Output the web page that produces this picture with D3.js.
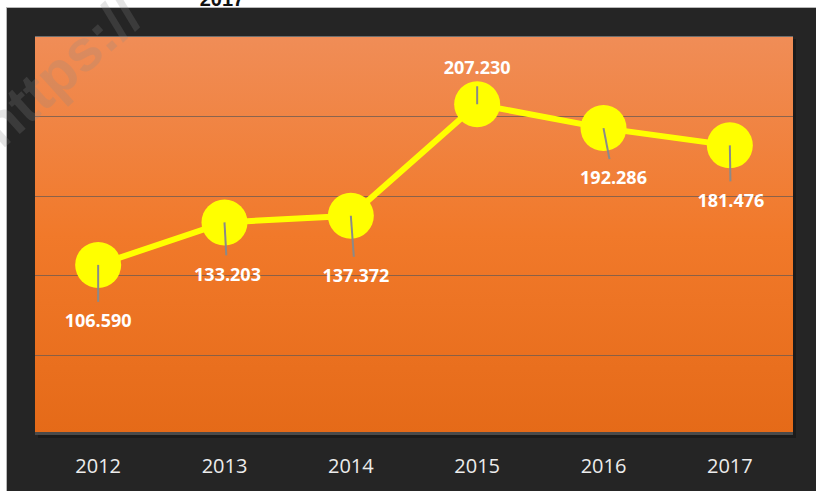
<!DOCTYPE html>
<html>
<head>
<meta charset="utf-8">
<script src="https://cdn.jsdelivr.net/npm/d3@7"></script>
<style>
  body { margin: 0; background: #fff; }
  svg { display: block; }
</style>
</head>
<body>
<div id="chart"></div>
<script>
// chart data
var years = ["2012", "2013", "2014", "2015", "2016", "2017"];
var values = [106.590, 133.203, 137.372, 207.230, 192.286, 181.476];
var valueLabels = ["106.590", "133.203", "137.372", "207.230", "192.286", "181.476"];
var yTicks = [0, 50, 100, 150, 200, 250];

// label offsets from the point (style, not data)
var labelDx = [0, 3, 5, 0, 10, 1];
var labelDy = [56, 52, 60, -37, 50, 55];

var svgWidth = 816;
var svgHeight = 491;

var margin = { top: 36, right: 23, bottom: 56, left: 35 };
var plotWidth = svgWidth - margin.left - margin.right;
var plotHeight = svgHeight - margin.top - margin.bottom;

var svg = d3.select("#chart")
    .append("svg")
    .attr("width", svgWidth)
    .attr("height", svgHeight);

var defs = svg.append("defs");
var grad = defs.append("linearGradient")
    .attr("id", "bg")
    .attr("x1", 0).attr("y1", 0).attr("x2", 0).attr("y2", 1);
grad.append("stop").attr("offset", "0%").attr("stop-color", "#f08d57");
grad.append("stop").attr("offset", "50%").attr("stop-color", "#f1792a");
grad.append("stop").attr("offset", "100%").attr("stop-color", "#e56a18");

// dark outer panel
svg.append("rect")
    .attr("x", 6.5).attr("y", 7.5)
    .attr("width", svgWidth).attr("height", svgHeight)
    .attr("fill", "#252525")
    .attr("stroke", "#b8b8b8");

// cut-off title (only its bottom shows, as in the source)
svg.append("text")
    .attr("x", 222).attr("y", 6)
    .attr("text-anchor", "middle")
    .attr("font-family", "Liberation Sans, Arial, sans-serif")
    .attr("font-weight", "bold")
    .attr("font-size", 20)
    .attr("fill", "#111")
    .text("2017");

var chartGroup = svg.append("g")
    .attr("transform", `translate(${margin.left}, ${margin.top})`);

// shadow + plot area
chartGroup.append("rect")
    .attr("x", 3).attr("y", 3)
    .attr("width", plotWidth).attr("height", plotHeight)
    .attr("fill", "#1b1b1b");
chartGroup.append("rect")
    .attr("width", plotWidth).attr("height", plotHeight)
    .attr("fill", "url(#bg)");
chartGroup.append("line")
    .attr("x1", 0).attr("x2", plotWidth)
    .attr("y1", 0.5).attr("y2", 0.5)
    .attr("stroke", "#6e6e6e");

var xScale = d3.scaleBand()
    .domain(years)
    .range([0, plotWidth]);

var yScale = d3.scaleLinear()
    .domain([0, 250])
    .range([plotHeight, 0]);

// gridlines
chartGroup.selectAll(".grid")
    .data(yTicks.slice(1, -1))
    .enter()
    .append("line")
    .attr("x1", 0).attr("x2", plotWidth)
    .attr("y1", d => Math.round(yScale(d)) + 0.5)
    .attr("y2", d => Math.round(yScale(d)) + 0.5)
    .attr("stroke", "#6a5a52")
    .attr("stroke-opacity", 0.75)
    .attr("stroke-width", 1);

// bottom border
chartGroup.append("rect")
    .attr("x", 0).attr("y", plotHeight - 3)
    .attr("width", plotWidth).attr("height", 3)
    .attr("fill", "#4a4a4a");

// x axis
var xAxis = d3.axisBottom(xScale).tickSize(0).tickPadding(0);
var xg = chartGroup.append("g")
    .attr("transform", `translate(0, ${plotHeight})`)
    .call(xAxis);
xg.select(".domain").remove();
xg.selectAll("text")
    .attr("dy", 38)
    .attr("font-family", "Open Sans, sans-serif")
    .attr("font-size", 20)
    .attr("fill", "#ececec");

var cx = d => xScale(d) + xScale.bandwidth() / 2;

// line
var line = d3.line()
    .x((d, i) => cx(years[i]))
    .y(d => yScale(d));

chartGroup.append("path")
    .datum(values)
    .attr("d", line)
    .attr("fill", "none")
    .attr("stroke", "#ffff00")
    .attr("stroke-width", 6);

// markers
chartGroup.selectAll(".pt")
    .data(values)
    .enter()
    .append("circle")
    .attr("cx", (d, i) => cx(years[i]))
    .attr("cy", d => yScale(d))
    .attr("r", 23)
    .attr("fill", "#ffff00");

// leader lines
chartGroup.selectAll(".leader")
    .data(values)
    .enter()
    .append("line")
    .attr("x1", (d, i) => cx(years[i]))
    .attr("y1", d => yScale(d))
    .attr("x2", (d, i) => cx(years[i]) + labelDx[i] * 0.6)
    .attr("y2", (d, i) => yScale(d) + labelDy[i] - Math.sign(labelDy[i]) * 19)
    .attr("stroke", "#8a8a8a")
    .attr("stroke-width", 2);

// value labels
chartGroup.selectAll(".lbl")
    .data(values)
    .enter()
    .append("text")
    .attr("x", (d, i) => cx(years[i]) + labelDx[i])
    .attr("y", (d, i) => yScale(d) + labelDy[i])
    .attr("dy", "0.35em")
    .attr("text-anchor", "middle")
    .attr("font-family", "Open Sans, sans-serif")
    .attr("font-weight", "bold")
    .attr("font-size", 18)
    .attr("fill", "#ffffff")
    .text((d, i) => valueLabels[i]);

// faded watermark
svg.append("text")
    .attr("transform", "translate(2, 150) rotate(-42)")
    .attr("font-family", "Liberation Sans, Arial, sans-serif")
    .attr("font-weight", "bold")
    .attr("font-size", 58)
    .attr("fill", "#8a8a8a")
    .attr("opacity", 0.22)
    .text("https://");
</script>
</body>
</html>
